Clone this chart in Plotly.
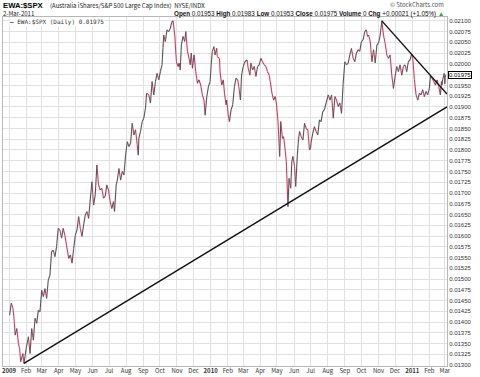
import plotly.graph_objects as go

# ---------------- data ----------------
dates = [
 "2009-01-02","2009-01-05","2009-01-08","2009-01-10","2009-01-12","2009-01-15","2009-01-18","2009-01-20","2009-01-22","2009-01-26",
 "2009-01-28","2009-02-01","2009-02-05","2009-02-08","2009-02-11","2009-02-14","2009-02-17","2009-02-20","2009-02-23","2009-02-26",
 "2009-03-01","2009-03-04","2009-03-07","2009-03-10","2009-03-13","2009-03-16","2009-03-19","2009-03-22","2009-03-25","2009-03-28",
 "2009-03-31","2009-04-03","2009-04-06","2009-04-09","2009-04-12","2009-04-15","2009-04-19","2009-04-22","2009-04-25","2009-04-28",
 "2009-05-01","2009-05-04","2009-05-07","2009-05-10","2009-05-13","2009-05-16","2009-05-19","2009-05-22","2009-05-25","2009-05-28",
 "2009-05-31","2009-06-03","2009-06-06","2009-06-09","2009-06-12","2009-06-15","2009-06-18","2009-06-21","2009-06-24","2009-06-27",
 "2009-06-30","2009-07-03","2009-07-06","2009-07-09","2009-07-11","2009-07-14","2009-07-16","2009-07-19","2009-07-22","2009-07-25",
 "2009-07-28","2009-07-31","2009-08-03","2009-08-06","2009-08-09","2009-08-12","2009-08-15","2009-08-18","2009-08-21","2009-08-23",
 "2009-08-24","2009-08-27","2009-08-30","2009-09-02","2009-09-05","2009-09-07","2009-09-11","2009-09-14","2009-09-17","2009-09-20",
 "2009-09-23","2009-09-26","2009-09-29","2009-10-02","2009-10-05","2009-10-08","2009-10-11","2009-10-14","2009-10-17","2009-10-20",
 "2009-10-23","2009-10-25","2009-10-28","2009-10-30","2009-10-31","2009-11-03","2009-11-05","2009-11-07","2009-11-09","2009-11-12",
 "2009-11-15","2009-11-17","2009-11-20","2009-11-23","2009-11-25","2009-11-27","2009-11-29","2009-12-02","2009-12-05","2009-12-08",
 "2009-12-11","2009-12-14","2009-12-17","2009-12-20","2009-12-22","2009-12-25","2009-12-28","2009-12-31","2010-01-02","2010-01-04",
 "2010-01-07","2010-01-09","2010-01-12","2010-01-13","2010-01-17","2010-01-18","2010-01-21","2010-01-24","2010-01-26","2010-01-29",
 "2010-01-30","2010-02-02","2010-02-04","2010-02-07","2010-02-10","2010-02-13","2010-02-16","2010-02-19","2010-02-21","2010-02-24",
 "2010-02-26","2010-03-01","2010-03-04","2010-03-08","2010-03-10","2010-03-13","2010-03-15","2010-03-18","2010-03-21","2010-03-24",
 "2010-03-27","2010-03-30","2010-04-02","2010-04-05","2010-04-08","2010-04-11","2010-04-14","2010-04-17","2010-04-19","2010-04-22",
 "2010-04-25","2010-04-28","2010-04-30","2010-05-03","2010-05-06","2010-05-08","2010-05-11","2010-05-13","2010-05-15","2010-05-18",
 "2010-05-21","2010-05-23","2010-05-26","2010-05-28","2010-05-30","2010-06-02","2010-06-04","2010-06-07","2010-06-09","2010-06-11",
 "2010-06-14","2010-06-17","2010-06-20","2010-06-23","2010-06-26","2010-06-29","2010-07-01","2010-07-02","2010-07-05","2010-07-08",
 "2010-07-11","2010-07-14","2010-07-17","2010-07-20","2010-07-23","2010-07-26","2010-07-29","2010-08-02","2010-08-05","2010-08-08",
 "2010-08-11","2010-08-14","2010-08-17","2010-08-20","2010-08-23","2010-08-26","2010-08-29","2010-09-01","2010-09-04","2010-09-07",
 "2010-09-10","2010-09-13","2010-09-16","2010-09-19","2010-09-22","2010-09-25","2010-09-28","2010-10-01","2010-10-04","2010-10-07",
 "2010-10-10","2010-10-12","2010-10-14","2010-10-17","2010-10-20","2010-10-23","2010-10-26","2010-10-29","2010-11-01","2010-11-04",
 "2010-11-07","2010-11-10","2010-11-13","2010-11-16","2010-11-19","2010-11-22","2010-11-25","2010-11-28","2010-12-01","2010-12-04",
 "2010-12-07","2010-12-10","2010-12-13","2010-12-16","2010-12-19","2010-12-22","2010-12-25","2010-12-28","2010-12-31","2011-01-02",
 "2011-01-05","2011-01-08","2011-01-11","2011-01-14","2011-01-17","2011-01-20","2011-01-23","2011-01-26","2011-01-29","2011-02-01",
 "2011-02-03","2011-02-06","2011-02-09","2011-02-12","2011-02-15","2011-02-18","2011-02-21","2011-02-23","2011-02-24","2011-02-25",
 "2011-02-28","2011-03-01","2011-03-02",
]
ratio = [
 0.01416,0.01444,0.01432,0.01409,0.01370,0.01385,0.01350,0.01339,0.01308,0.01327,
 0.01304,0.01339,0.01366,0.01327,0.01385,0.01358,0.01409,0.01397,0.01428,0.01424,
 0.01474,0.01459,0.01478,0.01455,0.01498,0.01509,0.01564,0.01567,0.01552,0.01575,
 0.01618,0.01614,0.01595,0.01618,0.01602,0.01579,0.01548,0.01556,0.01537,0.01571,
 0.01602,0.01614,0.01645,0.01618,0.01599,0.01626,0.01649,0.01657,0.01641,0.01684,
 0.01726,0.01672,0.01695,0.01765,0.01719,0.01707,0.01711,0.01688,0.01692,0.01719,
 0.01707,0.01680,0.01664,0.01680,0.01657,0.01719,0.01730,0.01757,0.01730,0.01750,
 0.01742,0.01788,0.01819,0.01808,0.01816,0.01862,0.01835,0.01847,0.01812,0.01788,
 0.01827,0.01843,0.01866,0.01874,0.01897,0.01932,0.01928,0.01909,0.01959,0.01928,
 0.01959,0.01978,0.01963,0.01982,0.01998,0.02067,0.02052,0.02079,0.02075,0.02083,
 0.02098,0.02100,0.02067,0.02025,0.02005,0.01994,0.02002,0.01986,0.02044,0.02064,
 0.02052,0.02075,0.02029,0.02013,0.01998,0.02025,0.01990,0.02021,0.01982,0.01955,
 0.01963,0.01951,0.01928,0.01916,0.01881,0.01924,0.01947,0.01959,0.01998,0.02029,
 0.02040,0.02021,0.02036,0.02017,0.02013,0.01982,0.01951,0.01963,0.01932,0.01905,
 0.01916,0.01881,0.01866,0.01893,0.01905,0.01947,0.01967,0.01963,0.01947,0.01916,
 0.01974,0.01994,0.02005,0.02009,0.01990,0.01974,0.02002,0.01986,0.01994,0.01971,
 0.01994,0.01998,0.02013,0.02005,0.01998,0.01994,0.01982,0.01974,0.01959,0.01932,
 0.01916,0.01924,0.01909,0.01866,0.01785,0.01866,0.01827,0.01831,0.01812,0.01773,
 0.01668,0.01734,0.01711,0.01773,0.01785,0.01761,0.01715,0.01788,0.01823,0.01843,
 0.01831,0.01823,0.01862,0.01850,0.01847,0.01800,0.01804,0.01819,0.01839,0.01854,
 0.01843,0.01835,0.01870,0.01866,0.01889,0.01893,0.01909,0.01928,0.01916,0.01928,
 0.01874,0.01924,0.01916,0.01901,0.01909,0.01885,0.01955,0.02005,0.01998,0.02002,
 0.02021,0.02036,0.02013,0.02005,0.02025,0.02033,0.02029,0.02052,0.02056,0.02075,
 0.02079,0.02064,0.02067,0.02052,0.02005,0.02033,0.02002,0.02044,0.02048,0.02067,
 0.02100,0.02067,0.02048,0.02021,0.02013,0.02021,0.01974,0.01943,0.01971,0.01994,
 0.01982,0.01998,0.01974,0.01994,0.01998,0.01982,0.02005,0.02009,0.02023,0.02013,
 0.01963,0.01928,0.01916,0.01932,0.01928,0.01940,0.01924,0.01936,0.01928,0.01943,
 0.01971,0.01967,0.01959,0.01951,0.01963,0.01947,0.01928,0.01959,0.01951,0.01963,
 0.01978,0.01954,0.01975,
]

# trend lines (end points)
support_dates = ["2009-01-28", "2011-03-05"]
support_vals = [0.01304, 0.01900]
resist_dates = ["2010-11-07", "2011-03-05"]
resist_vals = [0.02100, 0.01930]

# axis ticks
month_ticks = [
 "2009-01-01","2009-02-01","2009-03-01","2009-04-01","2009-05-01","2009-06-01","2009-07-01","2009-08-01","2009-09-01",
 "2009-10-01","2009-11-01","2009-12-01","2010-01-01","2010-02-01","2010-03-01","2010-04-01","2010-05-01","2010-06-01",
 "2010-07-01","2010-08-01","2010-09-01","2010-10-01","2010-11-01","2010-12-01","2011-01-01","2011-02-01","2011-03-01",
]
month_labels = [
 "<b>2009</b>","Feb","Mar","Apr","May","Jun","Jul","Aug","Sep","Oct","Nov","Dec",
 "<b>2010</b>","Feb","Mar","Apr","May","Jun","Jul","Aug","Sep","Oct","Nov","Dec",
 "<b>2011</b>","Feb","Mar",
]
y_labels = [
 "0.01300","0.01325","0.01350","0.01375","0.01400","0.01425","0.01450","0.01475","0.01500","0.01525","0.01550",
 "0.01575","0.01600","0.01625","0.01650","0.01675","0.01700","0.01725","0.01750","0.01775","0.01800","0.01825",
 "0.01850","0.01875","0.01900","0.01925","0.01950","0.01975","0.02000","0.02025","0.02050","0.02075","0.02100",
]
y_ticks = [float(s) for s in y_labels]
last_close = "0.01975"

# ---------------- build up / down segments ----------------
up_x, up_y, dn_x, dn_y = [], [], [], []
for i in range(1, len(dates)):
    if ratio[i] >= ratio[i - 1]:
        up_x += [dates[i - 1], dates[i], None]
        up_y += [ratio[i - 1], ratio[i], None]
    else:
        dn_x += [dates[i - 1], dates[i], None]
        dn_y += [ratio[i - 1], ratio[i], None]

FONT = "Liberation Sans, Arial, sans-serif"
NARROW = "Noto Sans CJK JP, Liberation Sans, sans-serif"
fig = go.Figure()
fig.add_trace(go.Scatter(x=dn_x, y=dn_y, mode="lines", line=dict(color="#cc3a62", width=1.1),
                         connectgaps=False, hoverinfo="skip"))
fig.add_trace(go.Scatter(x=up_x, y=up_y, mode="lines", line=dict(color="#555555", width=1.1),
                         connectgaps=False, hoverinfo="skip"))
fig.add_trace(go.Scatter(x=support_dates, y=support_vals, mode="lines",
                         line=dict(color="#111111", width=1.4), hoverinfo="skip"))
fig.add_trace(go.Scatter(x=resist_dates, y=resist_vals, mode="lines",
                         line=dict(color="#111111", width=1.4), hoverinfo="skip"))

fig.update_layout(
    width=480, height=377,
    margin=dict(l=3, r=33, t=17, b=11),
    paper_bgcolor="white", plot_bgcolor="white",
    showlegend=False,
    font=dict(family=FONT, size=6, color="#333333"),
    xaxis=dict(
        type="date", range=["2008-12-21", "2011-03-05"], automargin=False,
        tickmode="array", tickvals=month_ticks, ticktext=month_labels,
        showgrid=True, gridcolor="#e2e2e2", gridwidth=1,
        showline=True, mirror=True, linecolor="#b8b8b8", linewidth=1,
        ticks="", ticklabelstandoff=-1,
        tickfont=dict(size=6, color="#333333", family=NARROW),
        zeroline=False,
    ),
    yaxis=dict(
        side="right", range=[0.01298, 0.02109], automargin=False,
        tickmode="array", tickvals=y_ticks, ticktext=y_labels,
        showgrid=True, gridcolor="#e2e2e2", gridwidth=1,
        showline=True, mirror=True, linecolor="#b8b8b8", linewidth=1,
        ticks="", ticklabelstandoff=0,
        tickfont=dict(size=6, color="#333333", family=FONT),
        zeroline=False,
    ),
)

def px_x(x):
    return (x - 3) / 444.0

def px_y(y):
    return (366 - y) / 349.0

ann = []
ann.append(dict(text="<b>EWA:$SPX</b>", x=px_x(1), y=px_y(5.2), xanchor="left", yanchor="middle",
                font=dict(size=7.7, color="#000000", family=FONT)))
ann.append(dict(text="(Australia iShares/S&P 500 Large Cap Index)  NYSE/INDX", x=px_x(48), y=px_y(5.5),
                xanchor="left", yanchor="middle", font=dict(size=6, color="#222222", family=NARROW)))
ann.append(dict(text="2-Mar-2011", x=px_x(1), y=px_y(13.3), xanchor="left", yanchor="middle",
                font=dict(size=6, color="#222222", family=NARROW)))
ann.append(dict(text="<b>Open</b> 0.01953 <b>High</b> 0.01983 <b>Low</b> 0.01953 <b>Close</b> 0.01975 "
                     "<b>Volume</b> 0 <b>Chg</b> +0.00021 (+1.05%) <span style='color:#22aa22'>▲</span>",
                x=px_x(446), y=px_y(14), xanchor="right", yanchor="middle",
                font=dict(size=6.3, color="#111111", family=FONT)))
ann.append(dict(text="© StockCharts.com", x=px_x(446), y=px_y(4.5), xanchor="right", yanchor="middle",
                font=dict(size=6, color="#555555", family=NARROW)))
ann.append(dict(text="<b>—</b> EWA:$SPX (Daily) 0.01975", x=px_x(9), y=px_y(22.5), xanchor="left",
                yanchor="middle", bgcolor="white", borderpad=0,
                font=dict(size=6, color="#333333", family="DejaVu Sans Mono, monospace")))
ann.append(dict(text=last_close, xref="paper", yref="y", x=1.0 + 0.5 / 444, y=float(last_close),
                xanchor="left", yanchor="middle", bgcolor="white", bordercolor="#000000",
                borderwidth=1, borderpad=0, font=dict(size=6, color="#000000", family=FONT)))
for a in ann:
    a.setdefault("xref", "paper")
    a.setdefault("yref", "paper")
    a["showarrow"] = False
fig.update_layout(annotations=ann)

fig.write_html("out.html", config={"displayModeBar": False},
               post_script="document.body.style.margin='0';document.body.style.padding='0';")
